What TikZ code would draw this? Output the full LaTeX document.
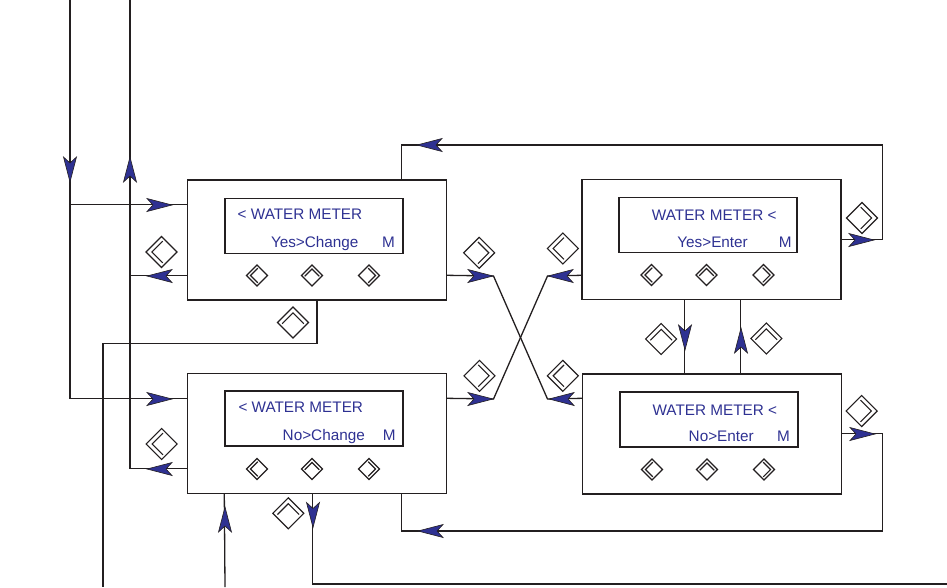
\documentclass[tikz,border=0pt]{standalone}
\usepackage{fontspec}
\setmainfont{Liberation Sans}
\usetikzlibrary{calc}
\definecolor{lcdblue}{RGB}{46,49,146}
\definecolor{ink}{RGB}{35,31,32}
\begin{document}
\begin{tikzpicture}[x=1pt,y=-1pt,
  conn/.style={draw=ink, line width=1.3pt},
  panel/.style={draw=ink, line width=1.4pt, minimum width=259pt, minimum height=120pt, inner sep=0pt},
  screen/.style={draw=ink, line width=1.4pt, minimum width=178pt, minimum height=55pt, inner sep=0pt},
  lcd/.style={text=lcdblue, font=\fontsize{15.3}{18}\selectfont, inner sep=0pt},
  pics/ahead/.style={code={
    \filldraw[fill=lcdblue, draw=ink, line width=0.6pt, line join=miter]
      (0,0) -- (-25,6.5) -- (-19,0) -- (-25,-6.5) -- cycle;}},
  pics/keyicon/.style={code={
    \draw[ink, line width=1.1pt, line join=miter]
      (0,-#1) -- (#1,0) -- (0,#1) -- (-#1,0) -- cycle;
    \draw[ink, line width=1.1pt, line join=miter]
      (0.08*#1,-0.7*#1) -- (-0.62*#1,0) -- (0.08*#1,0.7*#1);}}
]
\useasboundingbox (0,0) rectangle (947,587);

% control panels
\node[panel] (tl) at (317,240) {};
\node[panel] (tr) at (711.5,239.5) {};
\node[panel] (bl) at (317,433.5) {};
\node[panel] (br) at (712,434) {};

% LCD windows
\node[screen] (tls) at (314,226) {};
\node[screen] (trs) at (708,225) {};
\node[screen] (bls) at (314,418.5) {};
\node[screen] (brs) at (709,419.5) {};

% display texts
\node[lcd, anchor=base west] (tlt1) at (237.5,219) {< WATER METER};
\node[lcd, anchor=base east] (tlt2) at (358.7,247) {Yes>Change};
\node[lcd, anchor=base east] (tlt3) at (395,247) {M};

\node[lcd, anchor=base east] (trt1) at (776.7,220) {WATER METER <};
\node[lcd, anchor=base east] (trt2) at (748,247) {Yes>Enter};
\node[lcd, anchor=base east] (trt3) at (791.7,247) {M};

\node[lcd, anchor=base west] (blt1) at (238.3,412.7) {< WATER METER};
\node[lcd, anchor=base east] (blt2) at (365,440.7) {No>Change};
\node[lcd, anchor=base east] (blt3) at (395.7,440.7) {M};

\node[lcd, anchor=base east] (brt1) at (777.3,415) {WATER METER <};
\node[lcd, anchor=base east] (brt2) at (754,441) {No>Enter};
\node[lcd, anchor=base east] (brt3) at (790,441) {M};

% panel keys: left, up, right
\foreach \b in {tl,tr,bl,br} {
  \pic at ($(\b)+(-60,35.5)$) {keyicon=10.5};
  \pic[rotate=-90] at ($(\b)+(-5,35.5)$) {keyicon=10.5};
  \pic[rotate=180] at ($(\b)+(52,35.5)$) {keyicon=10.5};
}

% ports on the panels
\coordinate (tlIn)  at ($(tl.north west)+(0,25)$);
\coordinate (tlOut) at ($(tl.north west)+(0,96)$);
\coordinate (tlR)   at ($(tl.north east)+(0,96)$);
\coordinate (tlTop) at ($(tl.north west)+(214.5,0)$);
\coordinate (blIn)  at ($(bl.north west)+(0,25.5)$);
\coordinate (blOut) at ($(bl.north west)+(0,95.5)$);
\coordinate (blR)   at ($(bl.north east)+(0,25.5)$);
\coordinate (blB1)  at ($(bl.south west)+(37.5,0)$);
\coordinate (blB2)  at ($(bl.south west)+(125.5,0)$);
\coordinate (blB3)  at ($(bl.south west)+(214.5,0)$);
\coordinate (trL)   at ($(tr.north west)+(0,96.5)$);
\coordinate (trR)   at ($(tr.north east)+(0,60.5)$);
\coordinate (trB1)  at ($(tr.south west)+(103,0)$);
\coordinate (trB2)  at ($(tr.south west)+(159,0)$);
\coordinate (brL)   at ($(br.north west)+(0,25)$);
\coordinate (brR)   at ($(br.north east)+(0,60)$);
\coordinate (brT1)  at ($(br.north west)+(102.5,0)$);
\coordinate (brT2)  at ($(br.north west)+(158.5,0)$);

% free ends and bends
\coordinate (srcA) at (70,0);
\coordinate (srcB) at (130,0);
\coordinate (loopTR) at (882.5,145);
\coordinate (loopBR) at (882.5,531);
\coordinate (xTL) at (493.5,276);
\coordinate (xTR) at (547.5,276);
\coordinate (xBL) at (493.5,399);
\coordinate (xBR) at (547.5,399);
\coordinate (bendC) at (103,343.5);
\coordinate (outC) at (103,587);
\coordinate (inD) at (225,587);
\coordinate (outE) at (947,584);

% connectors
\draw[conn] (srcA) |- (blIn);
\draw[conn] (srcA |- tlIn) -- (tlIn);
\draw[conn] (blOut) -| (srcB);
\draw[conn] (tlOut) -- (srcB |- tlOut);
\draw[conn] (trR) -| (loopTR) -| (tlTop);
\draw[conn] (tlR) -- (xTL) -- (xBR) -- (brL);
\draw[conn] (trL) -- (xTR) -- (xBL) -- (blR);
\draw[conn] (brR) -| (loopBR) -| (blB3);
\draw[conn] (tl.south) |- (bendC) -- (outC);
\draw[conn] (inD) -- (blB1);
\draw[conn] (blB2) |- (outE);
\draw[conn] (trB1) -- (brT1);
\draw[conn] (brT2) -- (trB2);

% arrowheads along the connectors
\pic[rotate=-90] at (70,182) {ahead};
\pic[rotate=90]  at (130,157) {ahead};
\pic             at (172,205) {ahead};
\pic[rotate=180] at (147,276) {ahead};
\pic             at (172,399) {ahead};
\pic[rotate=180] at (147,469) {ahead};
\pic             at (493,276) {ahead};
\pic[rotate=180] at (548,276) {ahead};
\pic             at (493,399) {ahead};
\pic[rotate=180] at (549,399) {ahead};
\pic             at (874,240) {ahead};
\pic[rotate=180] at (417,145) {ahead};
\pic[rotate=-90] at (685,350) {ahead};
\pic[rotate=90]  at (741,328) {ahead};
\pic             at (875,434) {ahead};
\pic[rotate=180] at (418,531) {ahead};
\pic[rotate=90]  at (225,507) {ahead};
\pic[rotate=-90] at (313,527.5) {ahead};

% key symbols beside the connectors
\pic              at (161.5,252)   {keyicon=15.5};
\pic              at (161.7,444)   {keyicon=15.5};
\pic[rotate=180]  at (479.2,252.8) {keyicon=15.5};
\pic              at (562.8,248.5) {keyicon=15.5};
\pic[rotate=180]  at (479.5,375.8) {keyicon=15.5};
\pic              at (562.8,375.8) {keyicon=15.5};
\pic[rotate=180]  at (862,218)     {keyicon=15.5};
\pic[rotate=180]  at (861.7,411)   {keyicon=15.5};
\pic[rotate=-90]  at (293,322.5)   {keyicon=15.5};
\pic[rotate=-90]  at (288.3,513.3) {keyicon=15.5};
\pic[rotate=-90]  at (661.2,339)   {keyicon=15.5};
\pic[rotate=-90]  at (766.3,338.5) {keyicon=15.5};
\end{tikzpicture}
\end{document}
